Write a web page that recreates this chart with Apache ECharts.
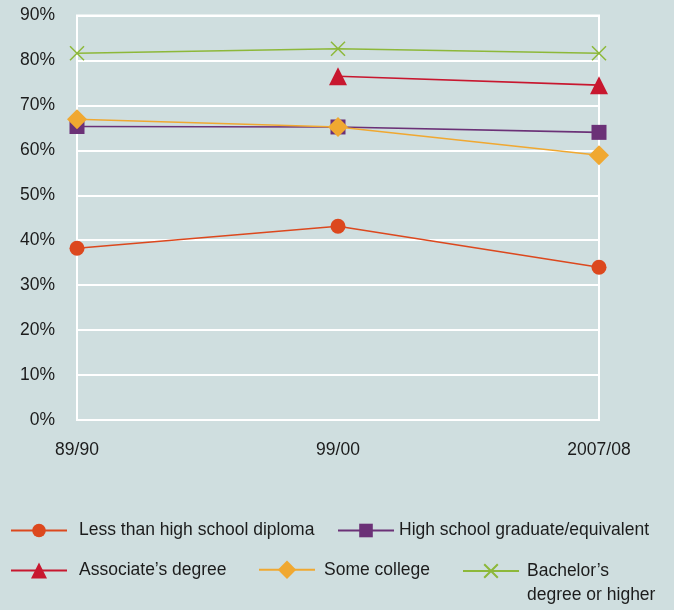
<!DOCTYPE html>
<html>
<head>
<meta charset="utf-8">
<script src="https://cdn.jsdelivr.net/npm/echarts@6/dist/echarts.min.js"></script>
<style>
  html, body { margin: 0; padding: 0; background: #cfdedf; }
  #chart { width: 674px; height: 610px; }
</style>
</head>
<body>
<div id="chart"></div>
<script>
// School years on the category axis
const years = ['89/90', '99/00', '2007/08'];

// Share (%) by highest level of education
const lessThanHighSchool = [38.2, 43.1, 34.0];
const highSchoolGrad = [65.3, 65.2, 64.0];
const associateDegree = [null, 76.5, 74.5];
const someCollege = [66.9, 65.2, 58.9];
const bachelorOrHigher = [81.6, 82.6, 81.6];

const seriesNames = [
  'Less than high school diploma',
  'High school graduate/equivalent',
  'Associate\u2019s degree',
  'Some college',
  'Bachelor\u2019s degree or higher'
];

const yTicks = [0, 10, 20, 30, 40, 50, 60, 70, 80, 90];

const FONT = '"Liberation Sans", Arial, sans-serif';
const FS = 17.5;
const TEXT = '#1c1c1c';

function lineSeries(name, data, color, symbol, size, extra) {
  return Object.assign({
    name: name,
    type: 'line',
    data: data,
    symbol: symbol,
    symbolSize: size,
    connectNulls: false,
    lineStyle: { color: color, width: 1.6 },
    itemStyle: { color: color },
    emphasis: { disabled: true },
    z: 3
  }, extra || {});
}

// One legend block per item so each entry sits in its own slot
function legendItem(name, left, centerY, iconH, textGap, extra) {
  return Object.assign({
    data: [name],
    left: left,
    top: centerY - Math.max(iconH, 21) / 2,
    padding: 0,
    orient: 'horizontal',
    itemWidth: 56,
    itemHeight: iconH,
    selectedMode: false,
    textStyle: { fontFamily: FONT, fontSize: FS, color: TEXT, padding: [0, 0, 0, textGap] }
  }, extra || {});
}

const chart = echarts.init(document.getElementById('chart'), null, { renderer: 'canvas' });

chart.setOption({
  backgroundColor: '#cfdedf',
  animation: false,
  grid: {
    left: 77, right: 75, top: 15.5, bottom: 190,
    show: true, borderColor: '#ffffff', borderWidth: 2, backgroundColor: 'transparent'
  },
  xAxis: {
    type: 'category',
    data: years,
    boundaryGap: false,
    axisLine: { show: false },
    axisTick: { show: false },
    splitLine: { show: false },
    axisLabel: { fontFamily: FONT, fontSize: FS, color: TEXT, margin: 21 }
  },
  yAxis: {
    type: 'value',
    min: yTicks[0],
    max: yTicks[yTicks.length - 1],
    interval: 10,
    axisLine: { show: false },
    axisTick: { show: false },
    splitLine: { show: true, lineStyle: { color: '#ffffff', width: 2 } },
    axisLabel: { fontFamily: FONT, fontSize: FS, color: TEXT, margin: 22, formatter: '{value}%' }
  },
  legend: [
    legendItem(seriesNames[0], 10, 532, 17, 7),
    legendItem(seriesNames[1], 337, 532, 17, 0),
    legendItem(seriesNames[2], 10, 572, 20, 7),
    legendItem(seriesNames[3], 258, 572, 23, 4),
    legendItem(seriesNames[4], 462, 572, 17, 3, {
      top: 535,
      formatter: function () { return '\nBachelor\u2019s\ndegree or higher'; },
      textStyle: { fontFamily: FONT, fontSize: FS, color: TEXT, lineHeight: 24, padding: [0, 0, 0, 3] }
    })
  ],
  series: [
    lineSeries(seriesNames[0], lessThanHighSchool, '#dc481e', 'circle', 15),
    lineSeries(seriesNames[1], highSchoolGrad, '#6b3177', 'rect', 15),
    lineSeries(seriesNames[2], associateDegree, '#c8172f', 'triangle', 18),
    lineSeries(seriesNames[3], someCollege, '#f0a831', 'diamond', 20),
    lineSeries(seriesNames[4], bachelorOrHigher, '#8db83a',
      'path://M0,0L10,10M10,0L0,10', 14,
      { itemStyle: { color: 'rgba(0,0,0,0)', borderColor: '#8db83a', borderWidth: 1.5 } })
  ]
});
</script>
</body>
</html>
